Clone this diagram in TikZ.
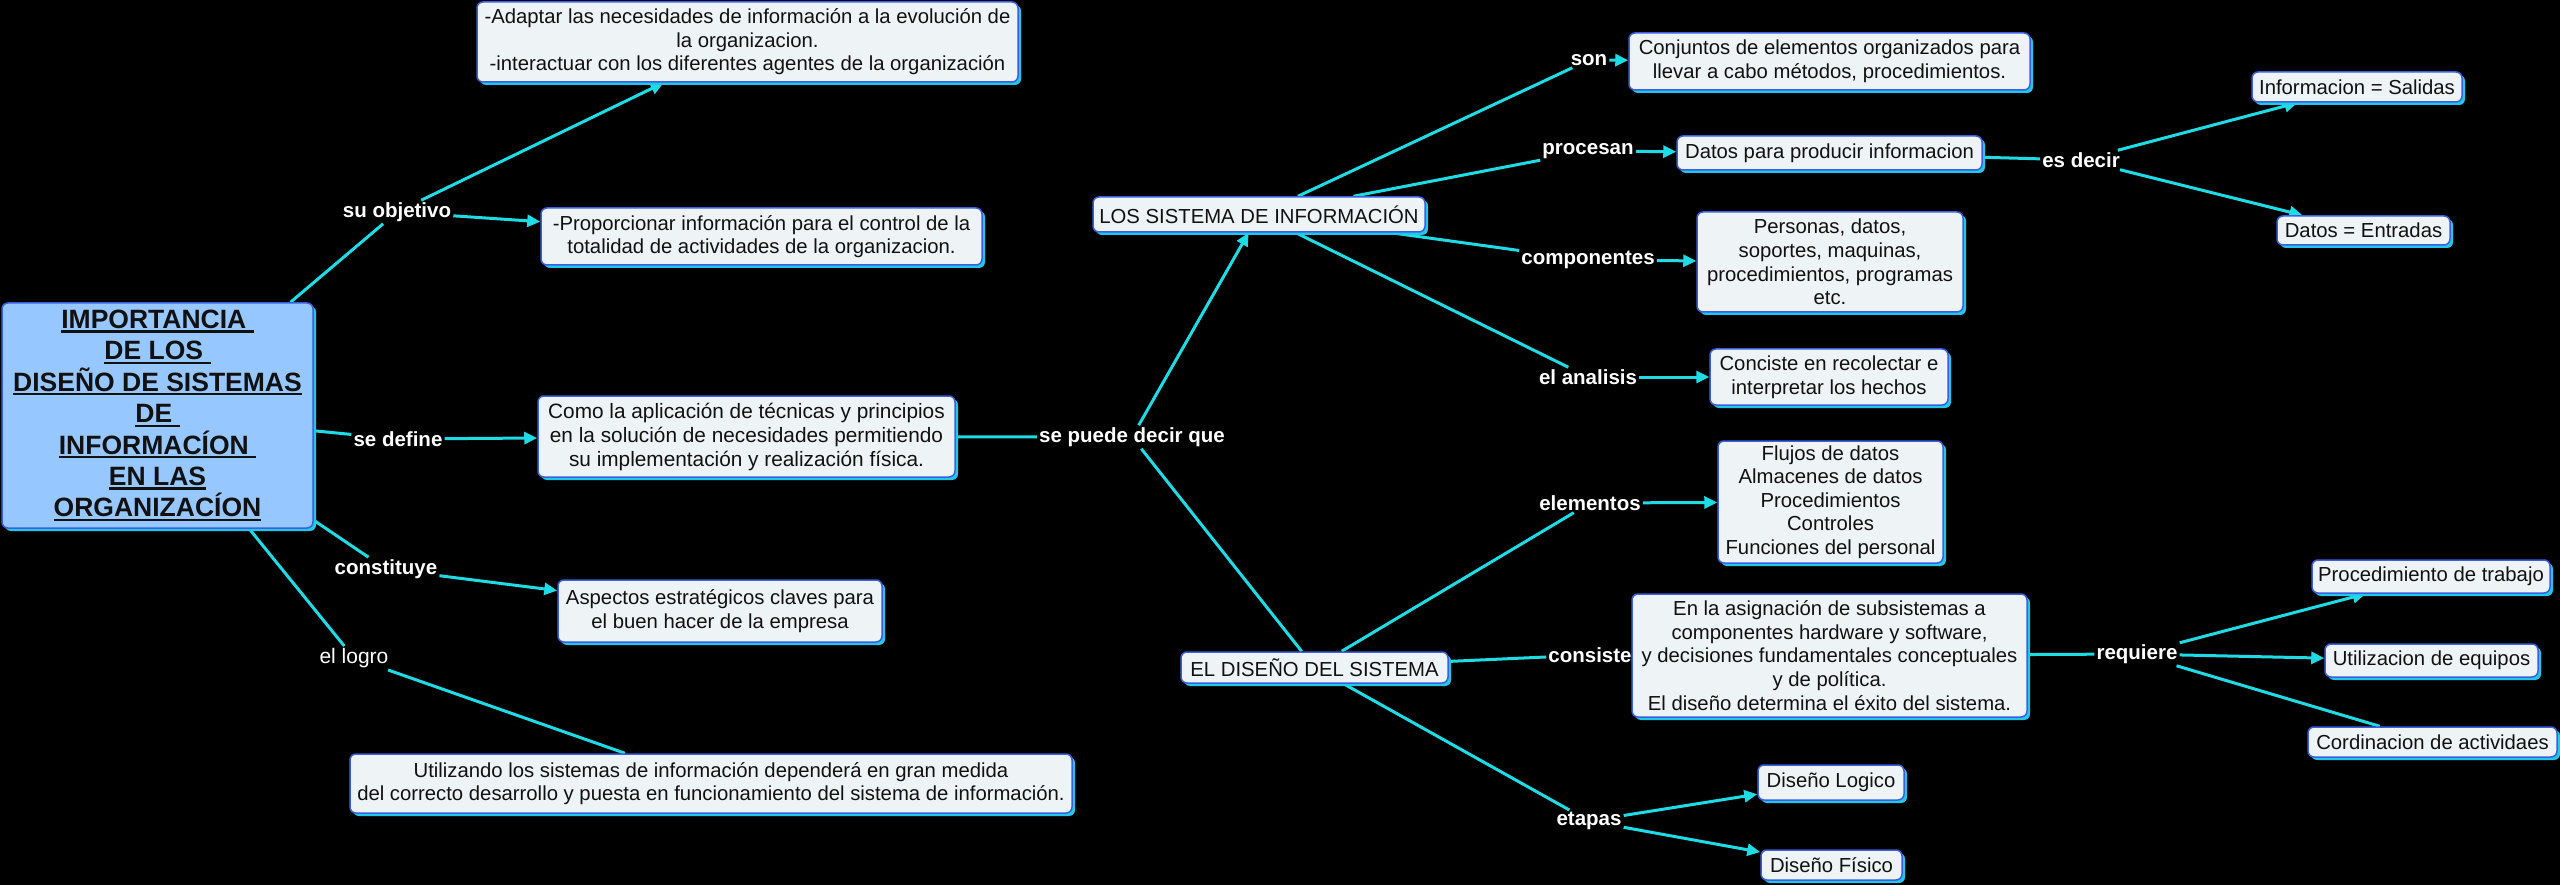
\documentclass[tikz,border=0pt]{standalone}
\usepackage{fontspec}
\setmainfont{Liberation Sans}
\usetikzlibrary{arrows.meta,shadows}
\definecolor{linecyan}{HTML}{1EDCE6}
\definecolor{boxborder}{HTML}{3A5FE0}
\definecolor{boxfill}{HTML}{EEF3F6}
\definecolor{mainfill}{HTML}{97C7FF}
\definecolor{shadowcyan}{HTML}{22C8EA}
\definecolor{txt}{HTML}{111111}
\newcommand\myul[1]{\setbox0=\hbox{#1}\rlap{\rule[-4pt]{\wd0}{2.2pt}}\box0}
\pgfdeclarelayer{bglayer}
\pgfdeclarelayer{linelayer}
\pgfsetlayers{bglayer,linelayer,main}
\tikzset{
  box/.style={draw=boxborder, line width=1.5pt, fill=boxfill, rounded corners=6pt,
    align=center, text=txt, font=\fontsize{20.3}{23.6}\selectfont, inner sep=2pt,
    general shadow={fill=shadowcyan, shadow xshift=3pt, shadow yshift=-3pt}},
  mainbox/.style={box, fill=mainfill, font=\fontsize{26.5}{31.4}\selectfont\bfseries},
  lbl/.style={text=white, font=\fontsize{20.5}{24}\selectfont\bfseries, inner sep=2pt},
  conn/.style={draw=linecyan, line width=3pt},
  arr/.style={conn, -{Triangle[length=13pt,width=12pt]}}
}
\begin{document}
\begin{tikzpicture}[x=1pt,y=-1pt]
\begin{pgfonlayer}{bglayer}
\fill[black] (0,0) rectangle (2560,885);
\end{pgfonlayer}
\useasboundingbox (0,0) rectangle (2560,885);

% main
\node[mainbox, minimum width=311pt, minimum height=225pt] (main) at (157.5,415.5)
  {\myul{IMPORTANCIA\ }\\ \myul{DE LOS\ }\\ \myul{DISEÑO DE SISTEMAS}\\ \myul{DE\ }\\ \myul{INFORMACÍON\ }\\ \myul{EN LAS}\\ \myul{ORGANIZACÍON}};

% left side
\node[box, minimum width=541pt, minimum height=80pt] (A) at (747.5,42)
  {-Adaptar las necesidades de información a la evolución de\\ la organizacion.\\ -interactuar con los diferentes agentes de la organización};
\node[box, minimum width=441pt, minimum height=57pt] (B) at (761.5,236.5)
  {-Proporcionar información para el control de la\\ totalidad de actividades de la organizacion.};
\node[box, minimum width=417pt, minimum height=81pt, font=\fontsize{20.8}{24}\selectfont] (C) at (746.5,436.5)
  {Como la aplicación de técnicas y principios\\ en la solución de necesidades permitiendo\\ su implementación y realización física.};
\node[box, minimum width=324pt, minimum height=62pt] (D) at (720,611)
  {Aspectos estratégicos claves para\\ el buen hacer de la empresa};
\node[box, minimum width=722pt, minimum height=59pt] (E) at (711,783.5)
  {Utilizando los sistemas de información dependerá en gran medida\\ del correcto desarrollo y puesta en funcionamiento del sistema de información.};

\node[lbl] (suobj) at (397,212) {su objetivo};
\node[lbl] (sedef) at (398,439) {se define};
\node[lbl] (const) at (386,569) {constituye};
\node[lbl, font=\fontsize{21}{24}\selectfont] (logro) at (354,658) {el logro};
\node[lbl] (sepuede) at (1132,437) {se puede decir que};

% middle
\node[box, minimum width=332pt, minimum height=35pt] (LOS) at (1259,214.5) {LOS SISTEMA DE INFORMACIÓN};
\node[box, minimum width=267pt, minimum height=31pt] (EL) at (1314.5,667.5) {EL DISEÑO DEL SISTEMA};

% right upper
\node[box, minimum width=401pt, minimum height=57pt] (F) at (1829.5,61.5)
  {Conjuntos de elementos organizados para\\ llevar a cabo métodos, procedimientos.};
\node[box, minimum width=305pt, minimum height=34pt] (G) at (1829.5,153) {Datos para producir informacion};
\node[box, minimum width=210pt, minimum height=30pt] (H) at (2357,87) {Informacion = Salidas};
\node[box, minimum width=173pt, minimum height=29pt] (I) at (2363.5,230.5) {Datos = Entradas};
\node[box, minimum width=266pt, minimum height=100pt] (J) at (1830,262)
  {Personas, datos,\\ soportes, maquinas,\\ procedimientos, programas\\ etc.};
\node[box, minimum width=238pt, minimum height=56pt] (K) at (1829,377)
  {Conciste en recolectar e\\ interpretar los hechos};

\node[lbl] (son) at (1589,60) {son};
\node[lbl] (proc) at (1588,151) {procesan};
\node[lbl] (comp) at (1588,260) {componentes};
\node[lbl] (anal) at (1588,377) {el analisis};
\node[lbl] (esdecir) at (2081,160) {es decir};

% right lower
\node[box, minimum width=225pt, minimum height=122pt] (L) at (1830.5,502)
  {Flujos de datos\\ Almacenes de datos\\ Procedimientos\\ Controles\\ Funciones del personal};
\node[box, minimum width=395pt, minimum height=123pt] (M) at (1829.5,655.5)
  {En la asignación de subsistemas a\\ componentes hardware y software,\\ y decisiones fundamentales conceptuales\\ y de política.\\ El diseño determina el éxito del sistema.};
\node[box, minimum width=238pt, minimum height=33pt] (N) at (2431,576.5) {Procedimiento de trabajo};
\node[box, minimum width=213pt, minimum height=33pt] (O) at (2431.5,660.5) {Utilizacion de equipos};
\node[box, minimum width=249pt, minimum height=30pt] (P) at (2432.5,742) {Cordinacion de actividaes};
\node[box, minimum width=146pt, minimum height=35pt] (Q) at (1831,782.5) {Diseño Logico};
\node[box, minimum width=141pt, minimum height=30pt] (R) at (1831.5,865) {Diseño Físico};

\node[lbl] (elem) at (1590,503) {elementos};
\node[lbl] (consiste) at (1590,655) {consiste};
\node[lbl] (requiere) at (2137,654) {requiere};
\node[lbl] (etapas) at (1589,821) {etapas};

\begin{pgfonlayer}{linelayer}
\draw[conn] (main) -- (suobj);
\draw[arr] (suobj) -- (A);
\draw[arr] (suobj) -- (B);
\draw[conn] (main) -- (sedef);
\draw[arr] (sedef) -- (C);
\draw[conn] (main) -- (const);
\draw[arr] (const) -- (D);
\draw[conn] (main) -- (logro);
\draw[conn] (logro) -- (E);
\draw[conn] (C) -- (sepuede);
\draw[arr] (sepuede) -- (LOS);
\draw[conn] (sepuede) -- (EL);
\draw[conn] (LOS) -- (son);
\draw[arr] (son) -- (F);
\draw[conn] (LOS) -- (proc);
\draw[arr] (proc) -- (G);
\draw[conn] (G) -- (esdecir);
\draw[arr] (esdecir) -- (H);
\draw[arr] (esdecir) -- (I);
\draw[conn] (LOS) -- (comp);
\draw[arr] (comp) -- (J);
\draw[conn] (LOS) -- (anal);
\draw[arr] (anal) -- (K);
\draw[conn] (EL) -- (elem);
\draw[arr] (elem) -- (L);
\draw[conn] (EL) -- (consiste);
\draw[conn] (M) -- (requiere);
\draw[arr] (requiere) -- (N);
\draw[arr] (requiere) -- (O);
\draw[conn] (requiere) -- (P);
\draw[conn] (EL) -- (etapas);
\draw[arr] (etapas) -- (Q);
\draw[arr] (etapas) -- (R);
\end{pgfonlayer}
\end{tikzpicture}
\end{document}
